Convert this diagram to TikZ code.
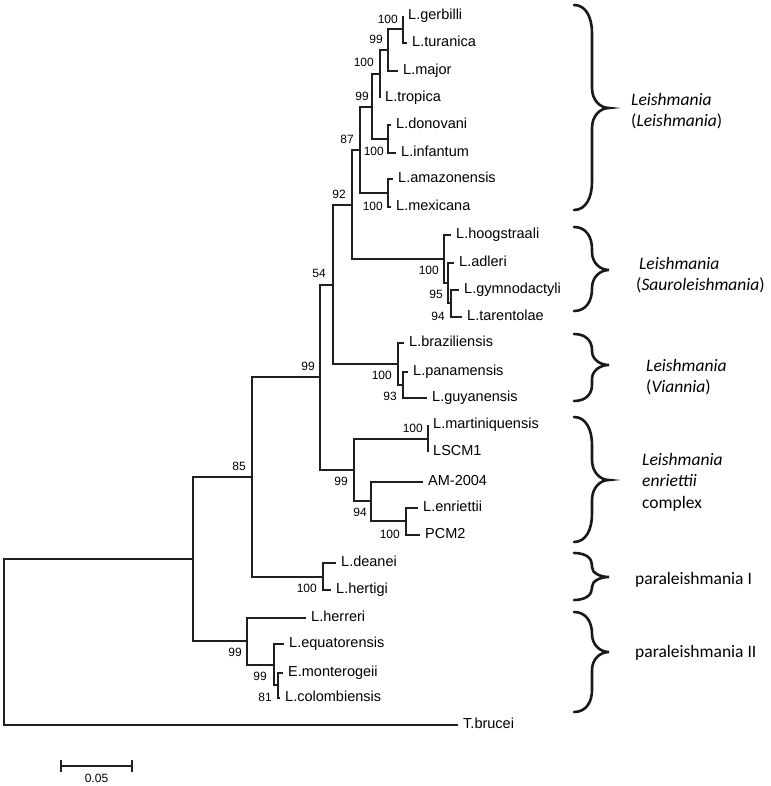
\documentclass[tikz,border=0pt]{standalone}
\usepackage{fontspec}
\setmainfont{Liberation Sans}
\newfontfamily\calib{Carlito}
\newcommand\cladebrace[5]{% top, tip, bottom, r1, r2
  \draw[bracestyle] (574,#1) .. controls (586,#1) and (592,{#1+#4*0.45}) .. (592,{#1+#4})
    -- (592,{#2-#5}) .. controls (592,{#2-#5*0.4}) and (600,#2) .. (609,#2)
    .. controls (600,#2) and (592,{#2+#5*0.4}) .. (592,{#2+#5})
    -- (592,{#3-#4}) .. controls (592,{#3-#4*0.45}) and (586,#3) .. (574,#3);}
\begin{document}
\begin{tikzpicture}[x=1pt,y=-1pt,
  branch/.style={line width=1.1pt, draw=black!88},
  leaf/.style={anchor=west, inner xsep=5pt, inner ysep=0pt, text height=0.716em, text depth=0pt, font=\fontsize{14.5}{17}\selectfont},
  boot/.style={anchor=east, inner sep=0pt, text height=0.716em, text depth=0pt, font=\fontsize{12}{14}\selectfont},
  clade/.style={anchor=west, align=left, inner sep=0pt, font=\calib\fontsize{17.5}{21.5}\selectfont},
  bracestyle/.style={line width=2.6pt, line cap=round, draw=black!90}
]
\useasboundingbox (0,0) rectangle (770,786);

% ---- leaves
\node[leaf] (gerb) at (403,16) {L.gerbilli};
\node[leaf] (tura) at (407,43) {L.turanica};
\node[leaf] (majo) at (398,71) {L.major};
\node[leaf] (trop) at (380,98) {L.tropica};
\node[leaf] (dono) at (391,125) {L.donovani};
\node[leaf] (infa) at (396,153) {L.infantum};
\node[leaf] (amaz) at (393,179) {L.amazonensis};
\node[leaf] (mexi) at (391,207) {L.mexicana};
\node[leaf] (hoog) at (451,235) {L.hoogstraali};
\node[leaf] (adle) at (454,263) {L.adleri};
\node[leaf] (gymn) at (459,290) {L.gymnodactyli};
\node[leaf] (tare) at (462,317) {L.tarentolae};
\node[leaf] (braz) at (404,343) {L.braziliensis};
\node[leaf] (pana) at (408,372) {L.panamensis};
\node[leaf] (guya) at (427,398) {L.guyanensis};
\node[leaf] (mart) at (428,425) {L.martiniquensis};
\node[leaf] (lscm) at (428,452) {LSCM1};
\node[leaf] (am04) at (423,482) {AM-2004};
\node[leaf] (enri) at (418,508) {L.enriettii};
\node[leaf] (pcm2) at (420,535) {PCM2};
\node[leaf] (dean) at (336,563) {L.deanei};
\node[leaf] (hert) at (331,590) {L.hertigi};
\node[leaf] (herr) at (306,618) {L.herreri};
\node[leaf] (equa) at (284,644) {L.equatorensis};
\node[leaf] (mont) at (283,673) {E.monterogeii};
\node[leaf] (colo) at (280,698) {L.colombiensis};
\node[leaf] (bruc) at (458,725) {T.brucei};

% ---- internal nodes
\coordinate (ngt)   at (403,29);
\coordinate (ngtm)  at (388,50);
\coordinate (ngtmt) at (380,74);
\coordinate (ndi)   at (388,139);
\coordinate (nll1)  at (372,107);
\coordinate (nam)   at (388,193);
\coordinate (nll)   at (360,150);
\coordinate (nta)   at (451,303);
\coordinate (nata)  at (448,283);
\coordinate (ns)    at (444,259);
\coordinate (nls)   at (352,205);
\coordinate (npg)   at (403,385);
\coordinate (nv)    at (398,364);
\coordinate (nlsv)  at (333,285);
\coordinate (nml)   at (428,439);
\coordinate (nep)   at (406,521);
\coordinate (naep)  at (371,501);
\coordinate (ne)    at (354,470);
\coordinate (nlei)  at (320,377);
\coordinate (ndh)   at (323,577);
\coordinate (nlp)   at (252,477);
\coordinate (nmc)   at (278,685);
\coordinate (nemc)  at (274,665);
\coordinate (np2)   at (247,641);
\coordinate (nin)   at (193,559);
\coordinate (root)  at (4,642);

% ---- branches
\draw[branch] (ngt) |- (gerb.west);
\draw[branch] (ngt) |- (tura.west);
\draw[branch] (ngtm) |- (ngt);
\draw[branch] (ngtm) |- (majo.west);
\draw[branch] (ngtmt) |- (ngtm);
\draw[branch] (ngtmt) |- (trop.west);
\draw[branch] (ndi) |- (dono.west);
\draw[branch] (ndi) |- (infa.west);
\draw[branch] (nll1) |- (ngtmt);
\draw[branch] (nll1) |- (ndi);
\draw[branch] (nam) |- (amaz.west);
\draw[branch] (nam) |- (mexi.west);
\draw[branch] (nll) |- (nll1);
\draw[branch] (nll) |- (nam);
\draw[branch] (nta) |- (gymn.west);
\draw[branch] (nta) |- (tare.west);
\draw[branch] (nata) |- (adle.west);
\draw[branch] (nata) |- (nta);
\draw[branch] (ns) |- (hoog.west);
\draw[branch] (ns) |- (nata);
\draw[branch] (nls) |- (nll);
\draw[branch] (nls) |- (ns);
\draw[branch] (npg) |- (pana.west);
\draw[branch] (npg) |- (guya.west);
\draw[branch] (nv) |- (braz.west);
\draw[branch] (nv) |- (npg);
\draw[branch] (nlsv) |- (nls);
\draw[branch] (nlsv) |- (nv);
\draw[branch] (nml) |- (mart.west);
\draw[branch] (nml) |- (lscm.west);
\draw[branch] (nep) |- (enri.west);
\draw[branch] (nep) |- (pcm2.west);
\draw[branch] (naep) |- (am04.west);
\draw[branch] (naep) |- (nep);
\draw[branch] (ne) |- (nml);
\draw[branch] (ne) |- (naep);
\draw[branch] (nlei) |- (nlsv);
\draw[branch] (nlei) |- (ne);
\draw[branch] (ndh) |- (dean.west);
\draw[branch] (ndh) |- (hert.west);
\draw[branch] (nlp) |- (nlei);
\draw[branch] (nlp) |- (ndh);
\draw[branch] (nmc) |- (mont.west);
\draw[branch] (nmc) |- (colo.west);
\draw[branch] (nemc) |- (equa.west);
\draw[branch] (nemc) |- (nmc);
\draw[branch] (np2) |- (herr.west);
\draw[branch] (np2) |- (nemc);
\draw[branch] (nin) |- (nlp);
\draw[branch] (nin) |- (np2);
\draw[branch] (root) |- (nin);
\draw[branch] (root) |- (bruc.west);

% ---- bootstrap values
\node[boot] (b1)  at (398,20)  {100};
\node[boot] (b2)  at (383,40)  {99};
\node[boot] (b3)  at (374,63)  {100};
\node[boot] (b4)  at (369,97)  {99};
\node[boot] (b5)  at (384,152) {100};
\node[boot] (b6)  at (383,207) {100};
\node[boot] (b7)  at (354,140) {87};
\node[boot] (b8)  at (346,195) {92};
\node[boot] (b9)  at (439,271) {100};
\node[boot] (b10) at (443,295) {95};
\node[boot] (b11) at (445,317) {94};
\node[boot] (b12) at (392,376) {100};
\node[boot] (b13) at (397,397) {93};
\node[boot] (b14) at (326,274) {54};
\node[boot] (b15) at (315,367) {99};
\node[boot] (b16) at (348,482) {99};
\node[boot] (b17) at (423,429) {100};
\node[boot] (b18) at (367,513) {94};
\node[boot] (b19) at (400,535) {100};
\node[boot] (b20) at (246,467) {85};
\node[boot] (b21) at (317,589) {100};
\node[boot] (b22) at (242,653) {99};
\node[boot] (b23) at (267,677) {99};
\node[boot] (b24) at (272,698) {81};

% ---- scale bar
\coordinate (sba) at (61,766);
\coordinate (sbb) at (132,766);
\draw[branch] (sba) -- (sbb);
\draw[branch] ([yshift=-6pt]sba) -- ([yshift=6pt]sba);
\draw[branch] ([yshift=-6pt]sbb) -- ([yshift=6pt]sbb);
\node[boot, anchor=center] (sbl) at (96.5,779) {0.05};

% ---- clade braces
\cladebrace{5}{108}{210}{28}{20}
\cladebrace{227}{270}{311}{22}{18}
\cladebrace{334}{365}{401}{16}{14}
\cladebrace{417}{480}{542}{28}{20}
\cladebrace{553}{577}{600}{12}{10}
\cladebrace{612}{652}{712}{22}{18}

\node[clade] (c1) at (631,111) {\textit{Leishmania}\\(\textit{Leishmania})};
\node[clade] (c2) at (636,275) {\,\textit{Leishmania}\\(\textit{Sauroleishmania})};
\node[clade] (c3) at (646,377) {\textit{Leishmania}\\(\textit{Viannia})};
\node[clade] (c4) at (642,482) {\textit{Leishmania}\\\textit{enriettii}\\complex};
\node[clade] (c5) at (635,580) {paraleishmania I};
\node[clade] (c6) at (635,653) {paraleishmania II};
\end{tikzpicture}
\end{document}
